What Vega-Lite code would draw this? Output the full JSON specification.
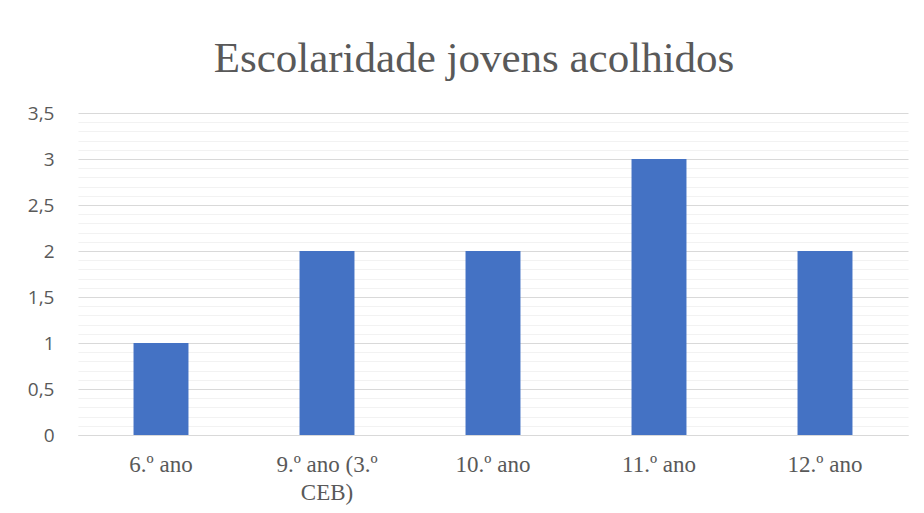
{
  "$schema": "https://vega.github.io/schema/vega-lite/v6.json",
  "width": 830,
  "height": 322,
  "autosize": {"type": "none"},
  "padding": {"left": 78, "top": 113, "right": 16, "bottom": 78},
  "background": "white",
  "title": {
    "text": "Escolaridade jovens acolhidos",
    "font": "Liberation Serif",
    "fontSize": 43,
    "fontWeight": "normal",
    "color": "#595959",
    "anchor": "middle",
    "baseline": "alphabetic",
    "offset": -11,
    "dx": -19
  },
  "data": {
    "values": [
      {"categoria": "6.º ano", "valor": 1},
      {"categoria": "9.º ano (3.º CEB)", "valor": 2},
      {"categoria": "10.º ano", "valor": 2},
      {"categoria": "11.º ano", "valor": 3},
      {"categoria": "12.º ano", "valor": 2}
    ]
  },
  "mark": {"type": "bar", "color": "#4472c4"},
  "encoding": {
    "x": {
      "field": "categoria",
      "type": "nominal",
      "sort": null,
      "scale": {"paddingInner": 0.669, "paddingOuter": 0.3345},
      "axis": {
        "title": null,
        "labelAngle": 0,
        "labelFont": "Liberation Serif",
        "labelFontSize": 23,
        "labelColor": "#595959",
        "labelPadding": 18,
        "labelLineHeight": 28,
        "ticks": false,
        "tickSize": 0,
        "domainColor": "#d9d9d9",
        "domainWidth": 1,
        "grid": false,
        "labelExpr": "datum.label == '9.º ano (3.º CEB)' ? ['9.º ano (3.º', 'CEB)'] : datum.label"
      }
    },
    "y": {
      "field": "valor",
      "type": "quantitative",
      "scale": {"domain": [0, 3.5], "nice": false},
      "axis": {
        "title": null,
        "values": [0, 0.1, 0.2, 0.3, 0.4, 0.5, 0.6, 0.7, 0.8, 0.9, 1, 1.1, 1.2, 1.3, 1.4, 1.5, 1.6, 1.7, 1.8, 1.9, 2, 2.1, 2.2, 2.3, 2.4, 2.5, 2.6, 2.7, 2.8, 2.9, 3, 3.1, 3.2, 3.3, 3.4, 3.5],
        "format": ".1~f",
        "labelExpr": "abs(round(datum.value * 2) - datum.value * 2) < 0.001 ? replace(datum.label, '.', ',') : ''",
        "labelFont": "Open Sans",
        "labelFontSize": 19,
        "labelColor": "#595959",
        "labelPadding": 24,
        "ticks": false,
        "tickSize": 0,
        "domain": false,
        "grid": true,
        "gridColor": {
          "condition": {"test": "abs(round(datum.value * 2) - datum.value * 2) < 0.001", "value": "#d9d9d9"},
          "value": "#f2f2f2"
        },
        "gridWidth": 1.2,
        "labelOverlap": false
      }
    }
  },
  "config": {
    "view": {"stroke": null}
  }
}
